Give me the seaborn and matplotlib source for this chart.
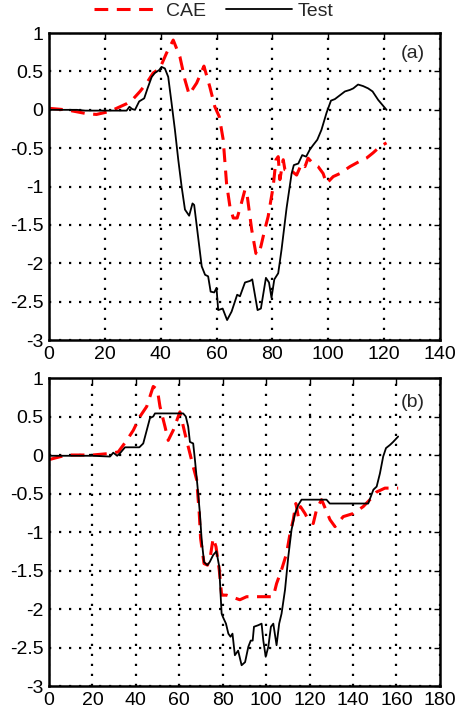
import numpy as np
import matplotlib
matplotlib.use("Agg")
import matplotlib.pyplot as plt
import seaborn as sns

# (a) test curve
a_test_x = [0, 5, 10, 13, 20, 27.8, 28.8, 29.8, 30.8, 32.3, 34.1, 35.3, 36.8, 37.9, 39.5, 40.3, 41.5, 42.7,
            43.9, 45.1, 46.3, 47.5, 48.7, 50.2, 51.4, 52, 54.7, 55.9, 57, 57.9, 59.2, 60, 60.6, 62.2, 63.8,
            65.4, 67.4, 68.4, 70.2, 72, 72.8, 74.7, 75.9, 77.7, 78.8, 79.7, 80.7, 82.1, 83.3, 85.1, 86.9,
            87.7, 89.3, 90.7, 92.1, 93.4, 94.6, 96.1, 97.6, 99.4, 101, 102.4, 104.2, 106, 107.8, 109, 110.7,
            112.5, 114.3, 115.9, 117.9, 120.9]
a_test_y = [0, 0, 0, -0.01, -0.01, -0.01, 0.04, 0.01, 0, 0.11, 0.15, 0.28, 0.43, 0.48, 0.52, 0.56, 0.54, 0.43,
            0.09, -0.26, -0.65, -1.0, -1.30, -1.38, -1.22, -1.24, -2.04, -2.15, -2.17, -2.37, -2.38, -2.32,
            -2.61, -2.59, -2.74, -2.63, -2.41, -2.43, -2.25, -2.23, -2.21, -2.61, -2.59, -2.19, -2.25, -2.45,
            -2.21, -2.13, -1.82, -1.28, -0.83, -0.72, -0.70, -0.59, -0.61, -0.52, -0.46, -0.39, -0.26, -0.04,
            0.12, 0.14, 0.19, 0.24, 0.26, 0.28, 0.33, 0.31, 0.28, 0.24, 0.13, 0.0]

# (a) CAE curve
a_cae_x = [0, 6.3, 13.5, 17, 21.8, 25.4, 27.8, 29.6, 32.6, 35, 37.3, 39.7, 42.1, 44.5, 46.9, 48.7, 50.2, 52.9,
           55.5, 57.6, 59.4, 61, 62.4, 63.6, 64.8, 66, 67.4, 68.6, 70.2, 71, 72.6, 74.1, 75, 75.9, 77.3, 78.5,
           80.3, 81.3, 82.1, 82.7, 83.9, 84.5, 85.7, 86.3, 88.7, 90.5, 91.7, 92.8, 94.6, 96.4, 98.2, 99.4,
           101.8, 104.2, 107.8, 111.3, 113.7, 116.1, 118.5, 120.9]
a_cae_y = [0.02, 0, -0.05, -0.06, -0.02, 0.04, 0.08, 0.12, 0.24, 0.35, 0.48, 0.54, 0.74, 0.91, 0.69, 0.39, 0.20,
           0.35, 0.57, 0.30, 0.04, -0.09, -0.39, -0.96, -1.26, -1.41, -1.41, -1.26, -1.04, -1.12, -1.56, -1.87,
           -1.89, -1.78, -1.56, -1.39, -1.0, -0.65, -0.61, -0.91, -0.65, -0.78, -0.80, -0.78, -0.85, -0.70,
           -0.74, -0.63, -0.70, -0.74, -0.83, -0.96, -0.87, -0.83, -0.74, -0.67, -0.63, -0.56, -0.48, -0.43]

# (b) test curve
b_test_x = [0, 10, 20, 28.1, 29.6, 31.4, 32.6, 35, 41.6, 43.4, 45, 46.5, 48, 48.8, 61.8, 63, 64.1, 64.9, 66.4,
            67.2, 68.4, 69.5, 70.3, 71.4, 72.9, 74, 75.6, 77.1, 78.4, 79, 79.5, 80.2, 81.5, 82.6, 83.6, 84.5,
            85.6, 87.1, 88.7, 90.3, 91.8, 92.9, 93.8, 94.4, 96.4, 97.9, 98.7, 99.8, 101, 102.2, 103.3, 104.8,
            106, 107.1, 108.7, 110.2, 111.7, 113.3, 114.8, 116.3, 127.8, 129.3, 147, 149.4, 150.9, 152.4,
            153.9, 155.2, 157, 158.5, 160.8]
b_test_y = [-0.01, -0.01, -0.01, -0.02, 0.03, -0.01, 0.02, 0.10, 0.10, 0.15, 0.32, 0.48, 0.50, 0.54, 0.54, 0.50,
            0.37, 0.17, 0.15, -0.06, -0.41, -0.76, -1.10, -1.39, -1.43, -1.39, -1.30, -1.25, -1.45, -1.80,
            -2.06, -2.11, -2.19, -2.32, -2.36, -2.32, -2.60, -2.54, -2.73, -2.69, -2.49, -2.41, -2.41, -2.23,
            -2.21, -2.19, -2.41, -2.62, -2.49, -2.23, -2.19, -2.47, -2.19, -2.06, -1.75, -1.32, -0.97, -0.76,
            -0.65, -0.58, -0.58, -0.63, -0.63, -0.45, -0.41, -0.24, -0.02, 0.09, 0.13, 0.17, 0.24]

# (b) CAE curve
b_cae_x = [0, 8.1, 20, 28, 31.9, 35.8, 38.8, 41.9, 45, 48, 49.9, 51.1, 53.4, 54.9, 57.2, 60.3, 62.6, 64.1,
           66.4, 68, 69.2, 69.8, 71.4, 73, 74.4, 75.6, 76.9, 78.4, 79.5, 81.8, 87.9, 91, 103.3, 104.8, 107.1,
           109.4, 111, 112.5, 113.7, 114.8, 115.8, 117.9, 119.4, 121.7, 123.2, 125.5, 126.3, 129.4, 131.7,
           135.5, 140.1, 144.7, 147.8, 150.9, 154.7, 160.8]
b_cae_y = [-0.06, 0, 0, 0.02, 0.04, 0.19, 0.32, 0.50, 0.63, 0.89, 0.85, 0.63, 0.37, 0.19, 0.32, 0.56, 0.28, 0.11,
           -0.15, -0.32, -0.76, -1.08, -1.41, -1.43, -1.30, -1.08, -1.19, -1.49, -1.82, -1.82, -1.88, -1.84,
           -1.84, -1.67, -1.49, -1.28, -1.02, -0.84, -0.63, -0.80, -0.67, -0.76, -0.84, -0.89, -0.71, -0.58,
           -0.63, -0.84, -0.93, -0.80, -0.76, -0.67, -0.58, -0.48, -0.43, -0.43]

panels = [
    (a_test_x, a_test_y, a_cae_x, a_cae_y, 140, "(a)"),
    (b_test_x, b_test_y, b_cae_x, b_cae_y, 180, "(b)"),
]

sns.set_theme(style="white")
plt.rcParams['font.family'] = ['Liberation Sans', 'DejaVu Sans']
plt.rcParams['axes.unicode_minus'] = False

fig = plt.figure(figsize=(4.55, 7.17), dpi=100)
ax_a = fig.add_axes([0.1077, 0.5258, 0.859, 0.428])
ax_b = fig.add_axes([0.1077, 0.0432, 0.859, 0.4296])

for ax, (tx, ty, cx, cy, xmax, tag) in zip([ax_a, ax_b], panels):
    sns.lineplot(x=cx, y=cy, ax=ax, color='red', linewidth=2.2, estimator=None, sort=False,
                 label='CAE')
    ax.lines[-1].set_linestyle((0, (4.5, 2.8)))
    sns.lineplot(x=tx, y=ty, ax=ax, color='black', linewidth=1.3, estimator=None, sort=False,
                 label='Test')
    ax.set_xlim(0, xmax)
    ax.set_ylim(-3, 1)
    ax.set_xticks(np.arange(0, xmax + 1, 20))
    ax.set_yticks(np.arange(-3, 1.01, 0.5))
    ax.set_yticklabels(['%g' % v for v in np.arange(-3, 1.01, 0.5)])
    ax.grid(True, color='black', linestyle=(0, (1, 3.5)), linewidth=1.6)
    ax.tick_params(direction='in', length=4, width=1, top=True, right=True,
                   labelsize=14, colors='black')
    ax.tick_params(axis='x', pad=4)
    ax.tick_params(axis='y', pad=4)
    for s in ax.spines.values():
        s.set_linewidth(1.8)
        s.set_color('black')
    ax.set_xlabel('')
    ax.set_ylabel('')
    ax.text(0.93, 0.935 if tag == "(a)" else 0.92, tag, transform=ax.transAxes,
            ha='center', va='center', fontsize=14)
    ax.get_legend().remove()

handles, labels = ax_a.get_legend_handles_labels()
fig.legend(handles, labels, loc='center', bbox_to_anchor=(0.47, 0.985), ncol=2, frameon=False,
           fontsize=14, handlelength=3.4, columnspacing=1.0, handletextpad=0.3)

fig.savefig('out.png', dpi=100)
